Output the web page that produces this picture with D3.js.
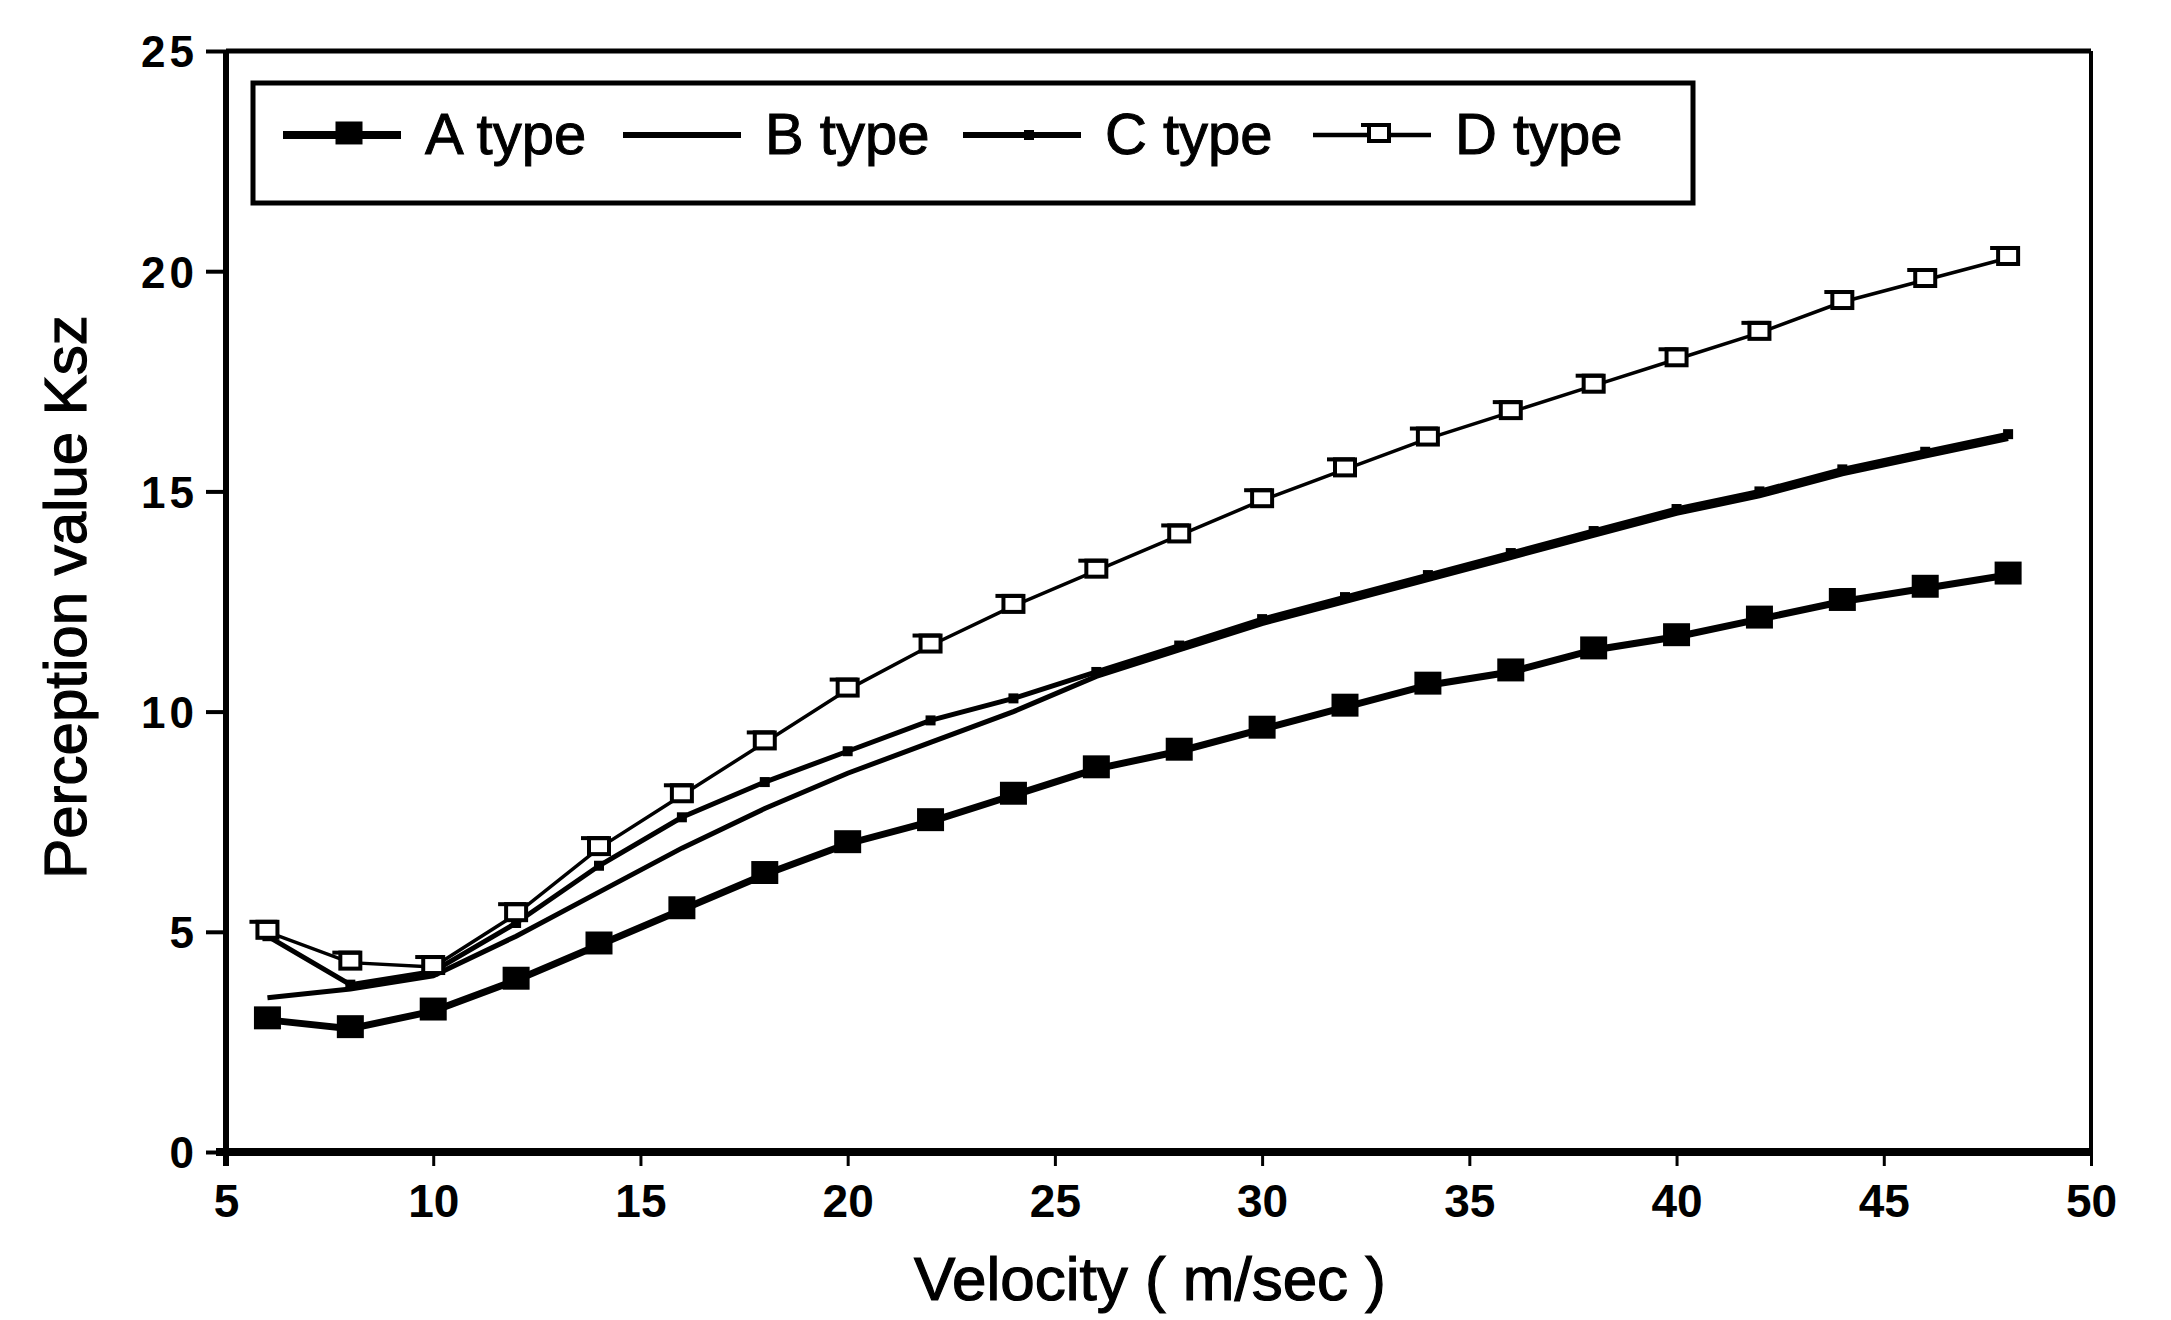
<!DOCTYPE html>
<html>
<head>
<meta charset="utf-8">
<script src="https://cdn.jsdelivr.net/npm/d3@7"></script>
<style>
  body { margin: 0; background: #fff; }
  text { font-family: "Liberation Sans", Arial, sans-serif; fill: #000; }
</style>
</head>
<body>
<div id="chart-area"></div>
<script>
// velocity (m/sec) and perception value Ksz per type
var velocity = [6, 8, 10, 12, 14, 16, 18, 20, 22, 24, 26, 28, 30, 32, 34, 36, 38, 40, 42, 44, 46, 48];
var aType = [3.0, 2.8, 3.2, 3.9, 4.7, 5.5, 6.3, 7.0, 7.5, 8.1, 8.7, 9.1, 9.6, 10.1, 10.6, 10.9, 11.4, 11.7, 12.1, 12.5, 12.8, 13.1];
var bType = [3.5, 3.7, 4.0, 4.9, 5.9, 6.9, 7.8, 8.6, 9.3, 10.0, 10.8, 11.4, 12.0, 12.5, 13.0, 13.5, 14.0, 14.5, 14.9, 15.4, 15.8, 16.2];
var cType = [4.9, 3.8, 4.1, 5.2, 6.5, 7.6, 8.4, 9.1, 9.8, 10.3, 10.9, 11.5, 12.1, 12.6, 13.1, 13.6, 14.1, 14.6, 15.0, 15.5, 15.9, 16.3];
var dType = [5.0, 4.3, 4.2, 5.4, 6.9, 8.1, 9.3, 10.5, 11.5, 12.4, 13.2, 14.0, 14.8, 15.5, 16.2, 16.8, 17.4, 18.0, 18.6, 19.3, 19.8, 20.3];

var seriesNames = ["A type", "B type", "C type", "D type"];
var xTicks = [5, 10, 15, 20, 25, 30, 35, 40, 45, 50];
var yTicks = [0, 5, 10, 15, 20, 25];

var margin = { left: 226, right: 80, top: 51, bottom: 168 };
var width = 2171 - margin.left - margin.right,
    height = 1320 - margin.top - margin.bottom;

var svg = d3.select("#chart-area")
    .append("svg")
        .attr("width", 2171)
        .attr("height", 1320);

svg.append("rect").attr("width", 2171).attr("height", 1320).attr("fill", "#fff");

var g = svg.append("g")
    .attr("transform", "translate(" + margin.left + ", " + margin.top + ")");

var x = d3.scaleLinear().domain([5, 50]).range([0, width]);
var y = d3.scaleLinear().domain([0, 25]).range([height, 0]);

// frame
g.append("line").attr("x1", 0).attr("x2", width).attr("y1", 0).attr("y2", 0)
    .attr("stroke", "#000").attr("stroke-width", 5);
g.append("line").attr("x1", width).attr("x2", width).attr("y1", 0).attr("y2", height)
    .attr("stroke", "#000").attr("stroke-width", 4);

// axes
var xAxis = d3.axisBottom(x).tickValues(xTicks).tickSize(14).tickPadding(18);
var yAxis = d3.axisLeft(y).tickValues(yTicks).tickSize(20).tickPadding(8);

var xg = g.append("g").attr("transform", "translate(0," + height + ")").call(xAxis);
var yg = g.append("g").call(yAxis);

xg.select(".domain").attr("stroke-width", 8).attr("d", "M-10,0H" + width);
yg.select(".domain").attr("stroke-width", 6).attr("d", "M0,0V" + (height + 14));
xg.selectAll(".tick line").attr("stroke-width", 3);
yg.selectAll(".tick line").attr("stroke-width", 4);
xg.selectAll(".tick text").attr("font-size", 46).attr("font-weight", "bold");
yg.selectAll(".tick text").attr("font-size", 44).attr("font-weight", "bold")
    .attr("letter-spacing", 4).attr("dy", "0.36em");

// axis titles
svg.append("text")
    .attr("x", 1150).attr("y", 1300)
    .attr("text-anchor", "middle")
    .attr("font-size", 62)
    .attr("stroke", "#000").attr("stroke-width", 1.2)
    .text("Velocity  ( m/sec )");

svg.append("text")
    .attr("transform", "translate(86, 597) rotate(-90)")
    .attr("text-anchor", "middle")
    .attr("font-size", 60)
    .attr("stroke", "#000").attr("stroke-width", 1.2)
    .text("Perception value Ksz");

// data
var allSeries = [aType, bType, cType, dType].map(function(vals, i) {
    return {
        name: seriesNames[i],
        points: vals.map(function(v, j) { return { vx: velocity[j], vy: v }; })
    };
});

var styles = [
    { width: 7, marker: "filled", size: 27 },
    { width: 5, marker: "none", size: 0 },
    { width: 5, marker: "small", size: 10 },
    { width: 3.5, marker: "open", size: 20 }
];

var line = d3.line()
    .x(function(d) { return x(d.vx); })
    .y(function(d) { return y(d.vy); });

function drawMarker(sel, kind, size) {
    if (kind === "filled") {
        sel.append("rect")
            .attr("x", -size / 2).attr("y", -size / 2)
            .attr("width", size).attr("height", size * 0.85)
            .attr("fill", "#000");
    } else if (kind === "small") {
        sel.append("rect")
            .attr("x", -size / 2).attr("y", -size / 2)
            .attr("width", size).attr("height", size)
            .attr("fill", "#000");
    } else if (kind === "open") {
        sel.append("rect")
            .attr("x", -size / 2).attr("y", -size / 2)
            .attr("width", size).attr("height", size * 0.8)
            .attr("fill", "#fff").attr("stroke", "#000").attr("stroke-width", 4);
        sel.append("line")
            .attr("x1", -size * 0.9).attr("x2", size / 2)
            .attr("y1", -size / 2).attr("y2", -size / 2)
            .attr("stroke", "#000").attr("stroke-width", 4);
    }
}

allSeries.forEach(function(s, i) {
    var st = styles[i];
    g.append("path")
        .datum(s.points)
        .attr("fill", "none")
        .attr("stroke", "#000")
        .attr("stroke-width", st.width)
        .attr("d", line);
    if (st.marker !== "none") {
        g.selectAll(".m" + i)
            .data(s.points)
            .enter()
            .append("g")
                .attr("class", "m" + i)
                .attr("transform", function(d) { return "translate(" + x(d.vx) + "," + y(d.vy) + ")"; })
                .each(function() { drawMarker(d3.select(this), st.marker, st.size); });
    }
});

// legend
var legend = svg.append("g").attr("transform", "translate(253, 83)");
legend.append("rect")
    .attr("width", 1440).attr("height", 120)
    .attr("fill", "#fff").attr("stroke", "#000").attr("stroke-width", 5);

var legendX = [30, 370, 710, 1060];
seriesNames.forEach(function(name, i) {
    var st = styles[i];
    var item = legend.append("g").attr("transform", "translate(" + legendX[i] + ", 52)");
    item.append("line")
        .attr("x1", 0).attr("x2", 118)
        .attr("stroke", "#000").attr("stroke-width", st.width + 1);
    var mk = item.append("g").attr("transform", "translate(66,0)");
    drawMarker(mk, st.marker, st.size);
    item.append("text")
        .attr("x", 142).attr("y", 19)
        .attr("font-size", 58)
        .attr("stroke", "#000").attr("stroke-width", 1)
        .text(name);
});
</script>
</body>
</html>
